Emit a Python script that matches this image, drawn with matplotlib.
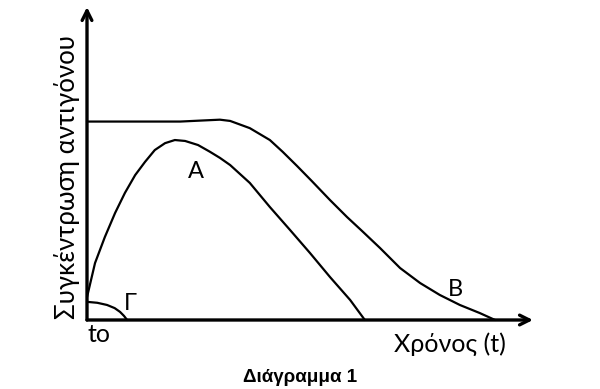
import matplotlib
matplotlib.use("Agg")
import matplotlib.pyplot as plt

# time (0-100 = axis length) vs antigen concentration
curve_b_t = [0, 14.1, 20.9, 25.3, 29.8, 32.1, 36.5, 41.0, 43.9, 47.1, 50.4, 54.5, 58.3, 61.7,
             65.7, 70.2, 74.7, 79.1, 83.6, 88.1, 91.5]
curve_b_c = [63.4, 63.4, 63.4, 63.7, 64.0, 63.6, 61.3, 57.5, 53.7, 49.2, 44.4, 38.3, 32.9, 28.4,
             23.0, 16.6, 11.8, 8.0, 4.8, 2.2, 0.0]

curve_a_t = [0, 1.8, 4.0, 6.3, 8.5, 10.8, 13.0, 15.2, 17.5, 19.7, 22.0, 24.9, 27.5, 29.8, 32.1,
             36.5, 41.0, 45.5, 50.0, 54.5, 59.0, 62.3]
curve_a_c = [7.3, 18.2, 26.5, 34.2, 40.6, 46.3, 50.5, 54.3, 56.5, 57.5, 57.2, 55.9, 53.8, 51.8, 49.5,
             43.8, 36.1, 28.8, 21.4, 13.7, 6.4, 0.0]

curve_g_t = [0, 2.3, 4.5, 6.2, 7.4, 8.3, 9.0]
curve_g_c = [5.8, 5.5, 4.8, 3.8, 2.6, 1.3, 0.0]

curve_labels = ["Α", "Β", "Γ"]
label_t = [24.5, 82.5, 9.6]
label_c = [47.3, 9.6, 5.4]

ylabel = "Συγκέντρωση αντιγόνου"
xlabel = "Χρόνος (t)"
origin_label = "to"
title = "Διάγραμμα 1"

fig = plt.figure(figsize=(6, 3.89), dpi=100)
ax = fig.add_axes([87 / 600, 69 / 389, 446 / 600, 313 / 389])
ax.set_xlim(0, 100)
ax.set_ylim(0, 100)
ax.axis("off")

arrow = dict(arrowstyle="->,head_length=0.7,head_width=0.35", lw=2.4, color="black",
             shrinkA=0, shrinkB=0)
ax.annotate("", xy=(0, 100), xytext=(0, 0), arrowprops=arrow, annotation_clip=False)
ax.annotate("", xy=(100, 0), xytext=(0, 0), arrowprops=arrow, annotation_clip=False)

for t, c in [(curve_b_t, curve_b_c), (curve_a_t, curve_a_c), (curve_g_t, curve_g_c)]:
    ax.plot(t, c, color="black", lw=1.6, solid_capstyle="round", solid_joinstyle="round",
            clip_on=False)

font = ["Lato", "DejaVu Sans"]
for name, t, c in zip(curve_labels, label_t, label_c):
    ax.text(t, c, name, fontsize=17, family=font, ha="center", va="center")

fig.text(67 / 600, 1 - 177 / 389, ylabel, rotation=90, fontsize=18.5, family=font,
         ha="center", va="center")
fig.text(450 / 600, 1 - 344 / 389, xlabel, fontsize=18, family=font, ha="center", va="center")
fig.text(99 / 600, 1 - 334 / 389, origin_label, fontsize=18, family=font, ha="center", va="center")
fig.text(300 / 600, 1 - 378 / 389, title, fontsize=13.5, fontweight="bold",
         family=["Liberation Sans", "DejaVu Sans"], ha="center", va="center")

fig.savefig("out.png", dpi=100, facecolor="white")
